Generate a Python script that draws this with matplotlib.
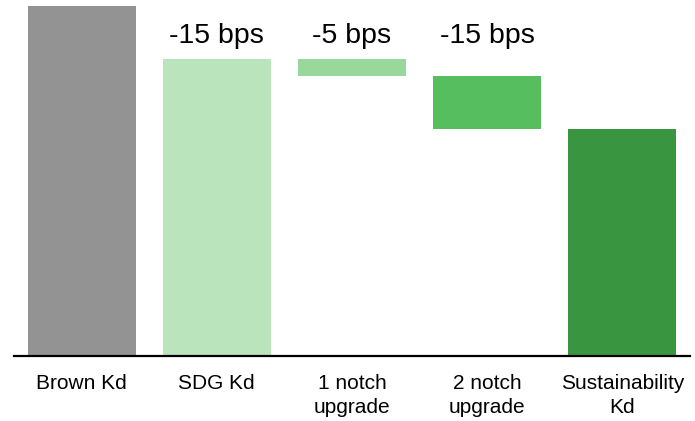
import matplotlib
matplotlib.use("Agg")
import matplotlib.pyplot as plt

# waterfall data (bps)
categories = ["Brown Kd", "SDG Kd", "1 notch\nupgrade", "2 notch\nupgrade", "Sustainability\nKd"]
tops = [100, 85, 85, 80, 65]
bottoms = [0, 0, 80, 65, 0]
deltas = [None, "-15 bps", "-5 bps", "-15 bps", None]
colors = ["#939393", "#bae4bc", "#98d89a", "#56be5e", "#3a9541"]

plt.rcParams["font.family"] = ["Liberation Sans", "DejaVu Sans"]

fig = plt.figure(figsize=(6.95, 4.21), dpi=100)
ax = fig.add_axes([14 / 695, 65 / 421, 676 / 695, 350 / 421])

x = list(range(len(categories)))
heights = [t - b for t, b in zip(tops, bottoms)]
ax.bar(x, heights, bottom=bottoms, width=0.8, color=colors)

# labels for the steps, all on one line above the bars
label_y = max(tops[1:]) + 6.5
for i, d in enumerate(deltas):
    if d is not None:
        ax.text(i, label_y, d, ha="center", va="center", fontsize=20.5)

ax.set_xlim(-0.5, 4.5)
ax.set_ylim(0, 100)
ax.set_xticks(x)
ax.set_xticklabels(categories, fontsize=15, linespacing=1.3, va="top")
ax.tick_params(axis="x", length=0, pad=13)
ax.set_yticks([])
for s in ["top", "right", "left"]:
    ax.spines[s].set_visible(False)
ax.spines["bottom"].set_linewidth(1.6)
ax.spines["bottom"].set_color("black")

fig.savefig("out.png", dpi=100)
